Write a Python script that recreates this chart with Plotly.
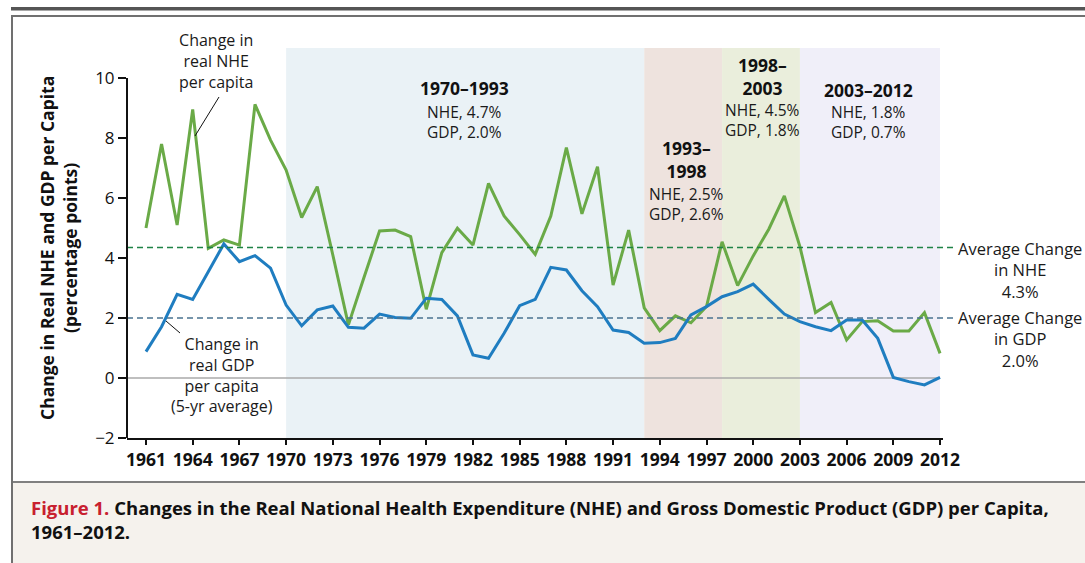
import plotly.graph_objects as go

years = list(range(1961, 2013))
nhe = [5.0, 7.8, 5.1, 8.95, 4.32, 4.6, 4.43, 9.12, 7.93, 6.93,
       5.35, 6.38, 4.1, 1.77, 3.35, 4.9, 4.93, 4.71, 2.29, 4.18,
       4.99, 4.43, 6.49, 5.4, 4.78, 4.12, 5.4, 7.68, 5.47, 7.04,
       3.1, 4.93, 2.34, 1.58, 2.07, 1.84, 2.38, 4.54, 3.08, 4.07,
       4.96, 6.07, 4.38, 2.18, 2.52, 1.27, 1.88, 1.91, 1.57, 1.57,
       2.18, 0.82]
gdp = [0.88, 1.71, 2.79, 2.62, 3.54, 4.47, 3.88, 4.08, 3.66, 2.43,
       1.74, 2.27, 2.4, 1.69, 1.66, 2.13, 2.02, 1.99, 2.66, 2.62,
       2.07, 0.77, 0.66, 1.49, 2.41, 2.62, 3.69, 3.6, 2.91, 2.38,
       1.6, 1.52, 1.16, 1.18, 1.32, 2.1, 2.38, 2.71, 2.88, 3.13,
       2.62, 2.13, 1.88, 1.71, 1.58, 1.93, 1.93, 1.32, 0.02, -0.12,
       -0.23, 0.02]
avg_nhe = 4.35
avg_gdp = 2.0
periods = [(1970, 1993), (1993, 1998), (1998, 2003), (2003, 2012)]
period_colors = ["#EAF2F6", "#EEE3DE", "#EAEEDC", "#F0EFF9"]
period_titles = ["1970\u20131993", "1993\u2013<br>1998", "1998\u2013<br>2003", "2003\u20132012"]
period_stats = ["NHE, 4.7%<br>GDP, 2.0%", "NHE, 2.5%<br>GDP, 2.6%",
                "NHE, 4.5%<br>GDP, 1.8%", "NHE, 1.8%<br>GDP, 0.7%"]
xticks = list(range(1961, 2013, 3))
yticks = [-2, 0, 2, 4, 6, 8, 10]

W, H = 1085, 563
L, R, T, B = 127, 943, 48, 438
FONT = "Open Sans"


def xp(px):
    return (px - L) / (R - L)


def yp(py):
    return (B - py) / (B - T)


fig = go.Figure()
fig.add_trace(go.Scatter(x=years, y=nhe, mode="lines",
                         line=dict(color="#6AAA47", width=3), name="NHE"))
fig.add_trace(go.Scatter(x=years, y=gdp, mode="lines",
                         line=dict(color="#1F7DC0", width=3), name="GDP"))

shapes = []
for (a, b), c in zip(periods, period_colors):
    shapes.append(dict(type="rect", xref="x", yref="y", x0=a, x1=b, y0=-2, y1=11,
                       fillcolor=c, line=dict(width=0), layer="below"))
# zero line
shapes.append(dict(type="line", xref="x", yref="y", x0=1959.8, x1=2012, y0=0, y1=0,
                   line=dict(color="#AAAAAA", width=1.5), layer="below"))
# average dashed lines
shapes.append(dict(type="line", xref="paper", yref="y", x0=0, x1=xp(955), y0=avg_nhe, y1=avg_nhe,
                   line=dict(color="#1E8246", width=1.6, dash="6px,4px")))
shapes.append(dict(type="line", xref="paper", yref="y", x0=0, x1=xp(955), y0=avg_gdp, y1=avg_gdp,
                   line=dict(color="#4A7390", width=1.6, dash="6px,4px")))
# y axis line (-2 to 10)
shapes.append(dict(type="line", xref="paper", yref="y", x0=0, x1=0, y0=-2, y1=10,
                   line=dict(color="#111111", width=2)))
# connector lines
shapes.append(dict(type="line", xref="paper", yref="paper", x0=xp(219), y0=yp(97), x1=xp(195), y1=yp(136),
                   line=dict(color="#111111", width=1)))
shapes.append(dict(type="line", xref="paper", yref="paper", x0=xp(166), y0=yp(321), x1=xp(180), y1=yp(333),
                   line=dict(color="#111111", width=1)))
# frame
shapes.append(dict(type="rect", xref="paper", yref="paper", x0=xp(13), x1=xp(1090), y0=yp(563), y1=yp(482),
                   fillcolor="#F5F2ED", line=dict(width=0), layer="below"))
shapes.append(dict(type="rect", xref="paper", yref="paper", x0=xp(11), x1=xp(1090), y0=yp(10.5), y1=yp(7),
                   fillcolor="#555555", line=dict(width=0)))
shapes.append(dict(type="rect", xref="paper", yref="paper", x0=xp(11), x1=xp(1090), y0=yp(17), y1=yp(15),
                   fillcolor="#707070", line=dict(width=0)))
shapes.append(dict(type="rect", xref="paper", yref="paper", x0=xp(11), x1=xp(13), y0=yp(563), y1=yp(15),
                   fillcolor="#707070", line=dict(width=0)))
shapes.append(dict(type="rect", xref="paper", yref="paper", x0=xp(13), x1=xp(1090), y0=yp(483), y1=yp(481),
                   fillcolor="#808080", line=dict(width=0)))

ann = []


def text(px, py, s, size=16, bold=False, color="#1a1a1a", **kw):
    ann.append(dict(xref="paper", yref="paper", x=xp(px), y=yp(py), text=s, showarrow=False,
                    font=dict(family=FONT, size=size, color=color, weight="bold" if bold else "normal"),
                    xanchor=kw.pop("xanchor", "center"), yanchor=kw.pop("yanchor", "middle"), **kw))


text(216, 61, "Change in<br>real NHE<br>per capita", size=16)
text(222, 375, "Change in<br>real GDP<br>per capita<br>(5-yr average)", size=16)
text(464, 88, period_titles[0], size=17.5, bold=True, color="#111")
text(464, 122, period_stats[0], size=15.5)
text(686, 159, period_titles[1], size=17.5, bold=True, color="#111")
text(686, 204, period_stats[1], size=15.5)
text(762, 77, period_titles[2], size=17.5, bold=True, color="#111")
text(762, 120, period_stats[2], size=15.5)
text(868, 90, period_titles[3], size=17.5, bold=True, color="#111")
text(868, 122, period_stats[3], size=15.5)
text(1020, 270, "Average Change<br>in NHE<br>4.3%", size=16.5)
text(1020, 339, "Average Change<br>in GDP<br>2.0%", size=16.5)
text(59, 248, "Change in Real NHE and GDP per Capita<br>(percentage points)", size=17.5, bold=True,
     color="#111", textangle=-90)
text(29, 519, "<span style='color:#C8202F'>Figure 1.</span> Changes in the Real National Health "
     "Expenditure (NHE) and Gross Domestic Product (GDP) per Capita,<br>1961\u20132012.",
     size=18.5, bold=True, color="#111", xanchor="left", align="left")

fig.update_layout(
    width=W, height=H,
    margin=dict(l=L, r=W - R, t=T, b=H - B, pad=0),
    paper_bgcolor="white", plot_bgcolor="white",
    showlegend=False,
    shapes=shapes, annotations=ann,
    font=dict(family=FONT, color="#111"),
    xaxis=dict(range=[1959.78, 2012.19], tickvals=xticks, showgrid=False, zeroline=False,
               showline=True, linecolor="#111", linewidth=2, ticks="outside", ticklen=5,
               tickwidth=1.5, tickcolor="#111", ticklabelstandoff=0,
               tickfont=dict(family=FONT, size=17.5, color="#111", weight="bold")),
    yaxis=dict(range=[-2, 11], tickvals=yticks, ticktext=["\u22122", "0", "2", "4", "6", "8", "10"],
               showgrid=False, zeroline=False, showline=False,
               ticks="outside", ticklen=8, tickwidth=1.5, tickcolor="#111",
               tickfont=dict(family=FONT, size=17, color="#111")),
)

fig.write_html("out.html", config={"displayModeBar": False},
               post_script="document.body.style.margin='0';")
